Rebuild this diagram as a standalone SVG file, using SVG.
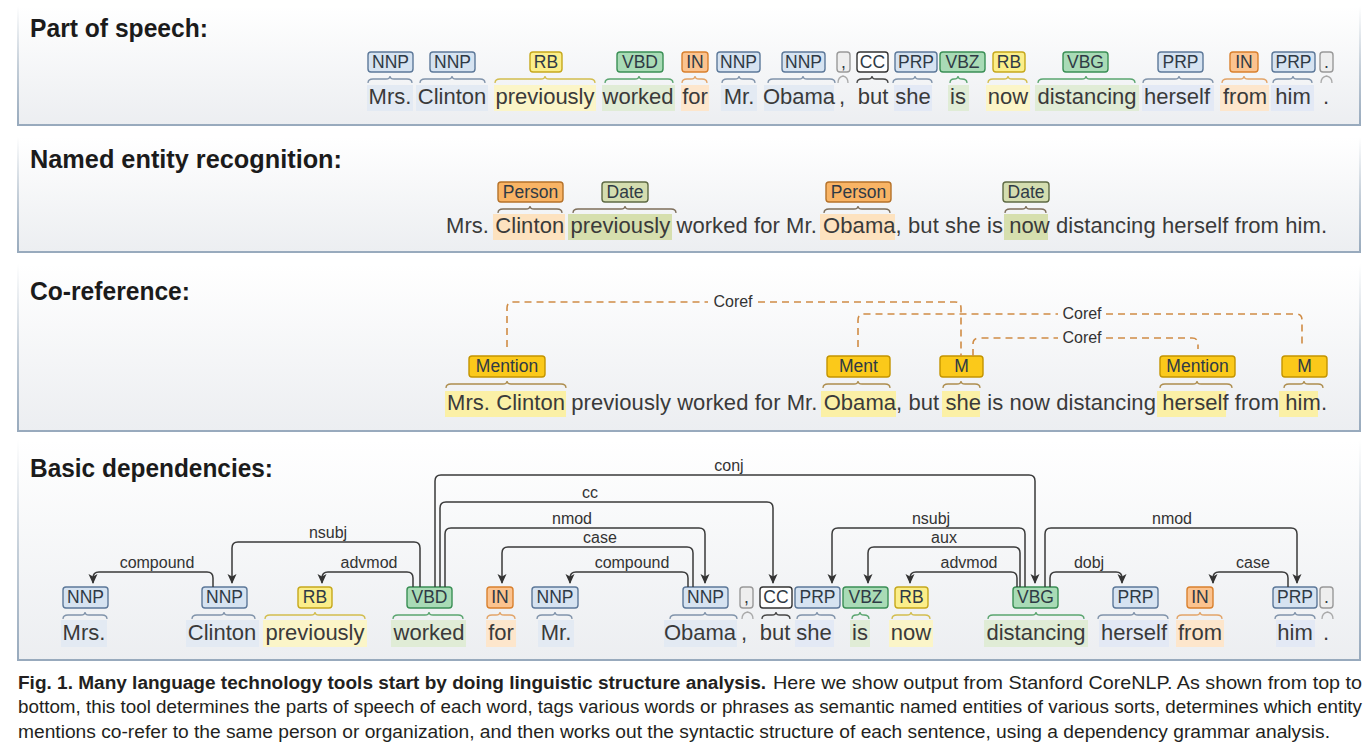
<svg xmlns="http://www.w3.org/2000/svg" width="1368" height="752" viewBox="0 0 1368 752">
<defs>
<linearGradient id="pg" x1="0" y1="0" x2="0" y2="1"><stop offset="0" stop-color="#ffffff"/><stop offset="1" stop-color="#eceef1"/></linearGradient>
<linearGradient id="bd" x1="0" y1="0" x2="0" y2="1"><stop offset="0" stop-color="#ffffff"/><stop offset="0.5" stop-color="#c5cfd9"/><stop offset="1" stop-color="#98aabd"/></linearGradient>
<marker id="ah" viewBox="0 0 10 10" refX="9" refY="5" markerWidth="10" markerHeight="10" markerUnits="userSpaceOnUse" orient="auto"><path d="M0,0.5 L10,5 L0,9.5 L2.5,5 z" fill="#333"/></marker>
<style>
text{font-family:'Liberation Sans',Arial,sans-serif}
.ttl{font-weight:bold;font-size:25px;fill:#1b1b1b}
.w{font-size:22px;fill:#3a3a3a;text-anchor:middle}
.s{font-size:22px;fill:#3a3a3a}
.tt{font-size:17.5px;fill:#2f3a45;text-anchor:middle}
.lbl{font-size:16px;fill:#333;text-anchor:middle}
.cap{font-size:17.5px;fill:#231f20}
.br{fill:none;stroke-width:1.3}
.dep{fill:none;stroke:#3a3a3a;stroke-width:1.5;marker-end:url(#ah)}
.cor{fill:none;stroke:#d08c45;stroke-width:1.6;stroke-dasharray:7 5}
.tNNP,.tPRP{fill:#d6e3f1;stroke:#5c7899;stroke-width:1.4}
.tRB{fill:#fbee8a;stroke:#c6a81c;stroke-width:1.4}
.tVB{fill:#a9dbb6;stroke:#3a8f55;stroke-width:1.4}
.tIN{fill:#fbc38f;stroke:#d9802e;stroke-width:1.4}
.tCC{fill:#ffffff;stroke:#333;stroke-width:1.4}
.tPUN{fill:#eeeeee;stroke:#999;stroke-width:1.4}
.tPER{fill:#f9b465;stroke:#b5722a;stroke-width:1.4}
.tDATE{fill:#d4ddb0;stroke:#5e6a44;stroke-width:1.4}
.tMEN{fill:#fbc91a;stroke:#c39400;stroke-width:1.4}
.bNNP{stroke:#8093aa}.bRB{stroke:#d2bd4e}.bVB{stroke:#5aa56f}.bIN{stroke:#e2a468}.bCC{stroke:#444}.bPUN{stroke:#aaa}.bNER{stroke:#7d6e5a}.bMEN{stroke:#ad8d4e}
.hNNP{fill:#e3eaf3}.hRB{fill:#fbf5c8}.hVB{fill:#e0ecd6}.hIN{fill:#fde6cc}.hPRP{fill:#e3e9f5}.hPER{fill:#fde2bf}.hDATE{fill:#d6dfae}.hMEN{fill:#fbf0a6}
</style>
</defs>
<rect width="1368" height="752" fill="#ffffff"/>

<!-- panels -->
<g id="panels">
<rect x="18" y="6" width="1342" height="119" fill="url(#pg)"/>
<path d="M18,6 V125 H1360 V6" fill="none" stroke="url(#bd)" stroke-width="2"/>
<rect x="18" y="137" width="1342" height="115" fill="url(#pg)"/>
<path d="M18,137 V252 H1360 V137" fill="none" stroke="url(#bd)" stroke-width="2"/>
<rect x="18" y="264" width="1342" height="167" fill="url(#pg)"/>
<path d="M18,264 V431 H1360 V264" fill="none" stroke="url(#bd)" stroke-width="2"/>
<rect x="18" y="440" width="1342" height="220" fill="url(#pg)"/>
<path d="M18,440 V660 H1360 V440" fill="none" stroke="url(#bd)" stroke-width="2"/>
</g>

<g id="titles">
<text class="ttl" x="30" y="37" textLength="178" lengthAdjust="spacingAndGlyphs">Part of speech:</text>
<text class="ttl" x="30" y="168" textLength="312" lengthAdjust="spacingAndGlyphs">Named entity recognition:</text>
<text class="ttl" x="30" y="300" textLength="160" lengthAdjust="spacingAndGlyphs">Co-reference:</text>
<text class="ttl" x="30" y="477" textLength="243" lengthAdjust="spacingAndGlyphs">Basic dependencies:</text>
</g>

<!-- ===== Part of speech ===== -->
<g id="pos">
<g id="pos-1"><rect class="hNNP" x="367" y="85" width="46" height="26"/><path class="br bNNP" d="M368,83 Q368,79 373,79 H386 Q390,79 390,76 Q390,79 394,79 H407 Q412,79 412,83"/><rect class="tNNP" x="368" y="52" width="45" height="20" rx="3"/><text class="tt" x="390.5" y="68">NNP</text><text class="w" x="390" y="104">Mrs.</text></g>
<g id="pos-2"><rect class="hNNP" x="416" y="85" width="72" height="26"/><path class="br bNNP" d="M420,83 Q420,79 425,79 H448 Q452,79 452,76 Q452,79 456,79 H480 Q485,79 485,83"/><rect class="tNNP" x="430" y="52" width="45" height="20" rx="3"/><text class="tt" x="452.5" y="68">NNP</text><text class="w" x="452" y="104">Clinton</text></g>
<g id="pos-3"><rect class="hRB" x="494" y="85" width="102" height="26"/><path class="br bRB" d="M495,83 Q495,79 500,79 H541 Q545,79 545,76 Q545,79 549,79 H590 Q595,79 595,83"/><rect class="tRB" x="530" y="52" width="32" height="20" rx="3"/><text class="tt" x="546" y="68">RB</text><text class="w" x="545" y="104">previously</text></g>
<g id="pos-4"><rect class="hVB" x="602" y="85" width="73" height="26"/><path class="br bVB" d="M605,83 Q605,79 610,79 H635 Q639,79 639,76 Q639,79 643,79 H668 Q673,79 673,83"/><rect class="tVB" x="617" y="52" width="46" height="20" rx="3"/><text class="tt" x="640" y="68">VBD</text><text class="w" x="638" y="104">worked</text></g>
<g id="pos-5"><rect class="hIN" x="681" y="85" width="28" height="26"/><path class="br bIN" d="M682,83 Q682,79 687,79 H691 Q695,79 695,76 Q695,79 699,79 H702 Q707,79 707,83"/><rect class="tIN" x="682" y="52" width="26" height="20" rx="3"/><text class="tt" x="695" y="68">IN</text><text class="w" x="695" y="104">for</text></g>
<g id="pos-6"><rect class="hNNP" x="721" y="85" width="36" height="26"/><path class="br bNNP" d="M722,83 Q722,79 727,79 H735 Q739,79 739,76 Q739,79 743,79 H750 Q755,79 755,83"/><rect class="tNNP" x="717" y="52" width="43" height="20" rx="3"/><text class="tt" x="738.5" y="68">NNP</text><text class="w" x="739" y="104">Mr.</text></g>
<g id="pos-7"><rect class="hNNP" x="764" y="85" width="70" height="26"/><path class="br bNNP" d="M768,83 Q768,79 773,79 H799 Q803,79 803,76 Q803,79 807,79 H830 Q835,79 835,83"/><rect class="tNNP" x="782" y="52" width="43" height="20" rx="3"/><text class="tt" x="803.5" y="68">NNP</text><text class="w" x="799" y="104">Obama</text></g>
<g id="pos-8"><path class="br bPUN" d="M838,83 Q838,77 843,76 Q848,77 848,83"/><rect class="tPUN" x="837" y="52" width="13" height="20" rx="3"/><text class="tt" x="843.5" y="68">,</text><text class="w" x="842" y="104">,</text></g>
<g id="pos-9"><path class="br bCC" d="M857,83 Q857,79 862,79 H868 Q872,79 872,76 Q872,79 876,79 H883 Q888,79 888,83"/><rect class="tCC" x="857" y="52" width="31" height="20" rx="3"/><text class="tt" x="872.5" y="68">CC</text><text class="w" x="873" y="104">but</text></g>
<g id="pos-10"><rect class="hPRP" x="894" y="85" width="38" height="26"/><path class="br bNNP" d="M893,83 Q893,79 898,79 H911 Q915,79 915,76 Q915,79 919,79 H927 Q932,79 932,83"/><rect class="tPRP" x="895" y="52" width="42" height="20" rx="3"/><text class="tt" x="916" y="68">PRP</text><text class="w" x="913" y="104">she</text></g>
<g id="pos-11"><rect class="hVB" x="948" y="85" width="21" height="26"/><path class="br bVB" d="M950,83 Q950,79 954,79 Q958,79 958,76 Q958,79 962,79 Q967,79 967,83"/><rect class="tVB" x="940" y="52" width="45" height="20" rx="3"/><text class="tt" x="962.5" y="68">VBZ</text><text class="w" x="958" y="104">is</text></g>
<g id="pos-12"><rect class="hRB" x="986" y="85" width="44" height="26"/><path class="br bRB" d="M988,83 Q988,79 993,79 H1004 Q1008,79 1008,76 Q1008,79 1012,79 H1022 Q1027,79 1027,83"/><rect class="tRB" x="993" y="52" width="32" height="20" rx="3"/><text class="tt" x="1009" y="68">RB</text><text class="w" x="1008" y="104">now</text></g>
<g id="pos-13"><rect class="hVB" x="1035" y="85" width="104" height="26"/><path class="br bVB" d="M1038,83 Q1038,79 1043,79 H1082 Q1086,79 1086,76 Q1086,79 1090,79 H1130 Q1135,79 1135,83"/><rect class="tVB" x="1063" y="52" width="45" height="20" rx="3"/><text class="tt" x="1085.5" y="68">VBG</text><text class="w" x="1087" y="104">distancing</text></g>
<g id="pos-14"><rect class="hPRP" x="1142" y="85" width="72" height="26"/><path class="br bNNP" d="M1143,83 Q1143,79 1148,79 H1175 Q1179,79 1179,76 Q1179,79 1183,79 H1208 Q1213,79 1213,83"/><rect class="tPRP" x="1158" y="52" width="45" height="20" rx="3"/><text class="tt" x="1180.5" y="68">PRP</text><text class="w" x="1177" y="104">herself</text></g>
<g id="pos-15"><rect class="hIN" x="1220" y="85" width="49" height="26"/><path class="br bIN" d="M1222,83 Q1222,79 1227,79 H1240 Q1244,79 1244,76 Q1244,79 1248,79 H1262 Q1267,79 1267,83"/><rect class="tIN" x="1230" y="52" width="28" height="20" rx="3"/><text class="tt" x="1244" y="68">IN</text><text class="w" x="1245" y="104">from</text></g>
<g id="pos-16"><rect class="hPRP" x="1271" y="85" width="43" height="26"/><path class="br bNNP" d="M1273,83 Q1273,79 1278,79 H1289 Q1293,79 1293,76 Q1293,79 1297,79 H1307 Q1312,79 1312,83"/><rect class="tPRP" x="1272" y="52" width="43" height="20" rx="3"/><text class="tt" x="1293.5" y="68">PRP</text><text class="w" x="1293" y="104">him</text></g>
<g id="pos-17"><path class="br bPUN" d="M1321,83 Q1321,77 1326.5,76 Q1332,77 1332,83"/><rect class="tPUN" x="1320" y="52" width="13" height="20" rx="3"/><text class="tt" x="1326.5" y="68">.</text><text class="w" x="1326" y="104">.</text></g>
</g>

<!-- ===== NER ===== -->
<g id="ner">
<rect class="hPER" x="493" y="214" width="72" height="26"/>
<rect class="hDATE" x="568" y="214" width="104" height="26"/>
<rect class="hPER" x="820" y="214" width="75" height="26"/>
<rect class="hDATE" x="1004" y="214" width="44" height="26"/>
<g id="ner-person1"><path class="br bNER" d="M498,213 Q498,209 503,209 H526 Q530,209 530,206 Q530,209 534,209 H557 Q562,209 562,213"/><rect class="tPER" x="498" y="182" width="65" height="20" rx="3"/><text class="tt" x="530.5" y="198">Person</text></g>
<g id="ner-date1"><path class="br bNER" d="M573,213 Q573,209 578,209 H621 Q625,209 625,206 Q625,209 629,209 H671 Q676,209 676,213"/><rect class="tDATE" x="602" y="182" width="46" height="20" rx="3"/><text class="tt" x="625" y="198">Date</text></g>
<g id="ner-person2"><path class="br bNER" d="M824,213 Q824,209 829,209 H854 Q858,209 858,206 Q858,209 862,209 H885 Q890,209 890,213"/><rect class="tPER" x="826" y="182" width="65" height="20" rx="3"/><text class="tt" x="858.5" y="198">Person</text></g>
<g id="ner-date2"><path class="br bNER" d="M1005,213 Q1005,209 1010,209 H1022 Q1026,209 1026,206 Q1026,209 1030,209 H1041 Q1046,209 1046,213"/><rect class="tDATE" x="1003" y="182" width="46" height="20" rx="3"/><text class="tt" x="1026" y="198">Date</text></g>
<text class="s" x="446" y="233" textLength="881">Mrs. Clinton previously worked for Mr. Obama, but she is now distancing herself from him.</text>
</g>

<!-- ===== Coreference ===== -->
<g id="coref">
<rect class="hMEN" x="445" y="391" width="121" height="26"/>
<rect class="hMEN" x="821" y="391" width="75" height="26"/>
<rect class="hMEN" x="942" y="391" width="38" height="26"/>
<rect class="hMEN" x="1157" y="391" width="69" height="26"/>
<rect class="hMEN" x="1279" y="391" width="39" height="26"/>
<g id="men-1"><path class="br bMEN" d="M446,388 Q446,384 451,384 H503 Q507,384 507,381 Q507,384 511,384 H561 Q566,384 566,388"/><rect class="tMEN" x="469" y="356" width="76" height="21" rx="3"/><text class="tt" x="507" y="372">Mention</text></g>
<g id="men-2"><path class="br bMEN" d="M823,388 Q823,384 828,384 H854 Q858,384 858,381 Q858,384 862,384 H885 Q890,384 890,388"/><rect class="tMEN" x="827" y="356" width="63" height="21" rx="3"/><text class="tt" x="858.5" y="372">Ment</text></g>
<g id="men-3"><path class="br bMEN" d="M943,388 Q943,384 948,384 H957 Q961,384 961,381 Q961,384 965,384 H975 Q980,384 980,388"/><rect class="tMEN" x="940" y="356" width="43" height="21" rx="3"/><text class="tt" x="961.5" y="372">M</text></g>
<g id="men-4"><path class="br bMEN" d="M1160,388 Q1160,384 1165,384 H1193 Q1197,384 1197,381 Q1197,384 1201,384 H1227 Q1232,384 1232,388"/><rect class="tMEN" x="1160" y="356" width="75" height="21" rx="3"/><text class="tt" x="1197.5" y="372">Mention</text></g>
<g id="men-5"><path class="br bMEN" d="M1284,388 Q1284,384 1289,384 H1300 Q1304,384 1304,381 Q1304,384 1308,384 H1318 Q1323,384 1323,388"/><rect class="tMEN" x="1282" y="356" width="45" height="21" rx="3"/><text class="tt" x="1304.5" y="372">M</text></g>
<text class="s" x="447" y="410" textLength="880">Mrs. Clinton previously worked for Mr. Obama, but she is now distancing herself from him.</text>
</g>

<!-- ===== Dependencies tokens ===== -->
<g id="dep-tokens">
<g id="d-1"><rect class="hNNP" x="61" y="620" width="46" height="27"/><path class="br bNNP" d="M63,619 Q63,615 68,615 H81 Q85,615 85,612 Q85,615 89,615 H102 Q107,615 107,619"/><rect class="tNNP" x="63" y="587" width="45" height="21" rx="3"/><text class="tt" x="85.5" y="603">NNP</text><text class="w" x="84" y="640">Mrs.</text></g>
<g id="d-2"><rect class="hNNP" x="186" y="620" width="73" height="27"/><path class="br bNNP" d="M192,619 Q192,615 197,615 H220 Q224,615 224,612 Q224,615 228,615 H250 Q255,615 255,619"/><rect class="tNNP" x="202" y="587" width="45" height="21" rx="3"/><text class="tt" x="224.5" y="603">NNP</text><text class="w" x="222" y="640">Clinton</text></g>
<g id="d-3"><rect class="hRB" x="263" y="620" width="104" height="27"/><path class="br bRB" d="M265,619 Q265,615 270,615 H311 Q315,615 315,612 Q315,615 319,615 H360 Q365,615 365,619"/><rect class="tRB" x="298" y="587" width="34" height="21" rx="3"/><text class="tt" x="315" y="603">RB</text><text class="w" x="315" y="640">previously</text></g>
<g id="d-4"><rect class="hVB" x="391" y="620" width="75" height="27"/><path class="br bVB" d="M393,619 Q393,615 398,615 H425 Q429,615 429,612 Q429,615 433,615 H458 Q463,615 463,619"/><rect class="tVB" x="407" y="587" width="45" height="21" rx="3"/><text class="tt" x="429.5" y="603">VBD</text><text class="w" x="429" y="640">worked</text></g>
<g id="d-5"><rect class="hIN" x="486" y="620" width="30" height="27"/><path class="br bIN" d="M487,619 Q487,615 492,615 H496 Q500,615 500,612 Q500,615 504,615 H510 Q515,615 515,619"/><rect class="tIN" x="487" y="587" width="26" height="21" rx="3"/><text class="tt" x="500" y="603">IN</text><text class="w" x="501" y="640">for</text></g>
<g id="d-6"><rect class="hNNP" x="538" y="620" width="36" height="27"/><path class="br bNNP" d="M537,619 Q537,615 542,615 H551 Q555,615 555,612 Q555,615 559,615 H567 Q572,615 572,619"/><rect class="tNNP" x="532" y="587" width="46" height="21" rx="3"/><text class="tt" x="555" y="603">NNP</text><text class="w" x="556" y="640">Mr.</text></g>
<g id="d-7"><rect class="hNNP" x="664" y="620" width="73" height="27"/><path class="br bNNP" d="M670,619 Q670,615 675,615 H701 Q705,615 705,612 Q705,615 709,615 H732 Q737,615 737,619"/><rect class="tNNP" x="683" y="587" width="45" height="21" rx="3"/><text class="tt" x="705.5" y="603">NNP</text><text class="w" x="700" y="640">Obama</text></g>
<g id="d-8"><path class="br bPUN" d="M742,619 Q742,613 747.5,612 Q753,613 753,619"/><rect class="tPUN" x="740" y="587" width="13" height="21" rx="3"/><text class="tt" x="746.5" y="603">,</text><text class="w" x="744" y="640">,</text></g>
<g id="d-9"><path class="br bCC" d="M762,619 Q762,615 767,615 H772 Q776,615 776,612 Q776,615 780,615 H785 Q790,615 790,619"/><rect class="tCC" x="760" y="587" width="32" height="21" rx="3"/><text class="tt" x="776" y="603">CC</text><text class="w" x="775" y="640">but</text></g>
<g id="d-10"><rect class="hPRP" x="795" y="620" width="39" height="27"/><path class="br bNNP" d="M797,619 Q797,615 802,615 H813 Q817,615 817,612 Q817,615 821,615 H830 Q835,615 835,619"/><rect class="tPRP" x="795" y="587" width="45" height="21" rx="3"/><text class="tt" x="817.5" y="603">PRP</text><text class="w" x="814" y="640">she</text></g>
<g id="d-11"><rect class="hVB" x="850" y="620" width="20" height="27"/><path class="br bVB" d="M852,619 Q852,615 856,615 Q860,615 860,612 Q860,615 864,615 Q869,615 869,619"/><rect class="tVB" x="843" y="587" width="45" height="21" rx="3"/><text class="tt" x="865.5" y="603">VBZ</text><text class="w" x="860" y="640">is</text></g>
<g id="d-12"><rect class="hRB" x="889" y="620" width="44" height="27"/><path class="br bRB" d="M892,619 Q892,615 897,615 H907 Q911,615 911,612 Q911,615 915,615 H925 Q930,615 930,619"/><rect class="tRB" x="895" y="587" width="33" height="21" rx="3"/><text class="tt" x="911.5" y="603">RB</text><text class="w" x="911" y="640">now</text></g>
<g id="d-13"><rect class="hVB" x="984" y="620" width="104" height="27"/><path class="br bVB" d="M988,619 Q988,615 993,615 H1032 Q1036,615 1036,612 Q1036,615 1040,615 H1079 Q1084,615 1084,619"/><rect class="tVB" x="1013" y="587" width="45" height="21" rx="3"/><text class="tt" x="1035.5" y="603">VBG</text><text class="w" x="1036" y="640">distancing</text></g>
<g id="d-14"><rect class="hPRP" x="1099" y="620" width="70" height="27"/><path class="br bNNP" d="M1098,619 Q1098,615 1103,615 H1130 Q1134,615 1134,612 Q1134,615 1138,615 H1163 Q1168,615 1168,619"/><rect class="tPRP" x="1113" y="587" width="45" height="21" rx="3"/><text class="tt" x="1135.5" y="603">PRP</text><text class="w" x="1134" y="640">herself</text></g>
<g id="d-15"><rect class="hIN" x="1176" y="620" width="48" height="27"/><path class="br bIN" d="M1177,619 Q1177,615 1182,615 H1196 Q1200,615 1200,612 Q1200,615 1204,615 H1217 Q1222,615 1222,619"/><rect class="tIN" x="1187" y="587" width="26" height="21" rx="3"/><text class="tt" x="1200" y="603">IN</text><text class="w" x="1200" y="640">from</text></g>
<g id="d-16"><rect class="hPRP" x="1276" y="620" width="39" height="27"/><path class="br bNNP" d="M1275,619 Q1275,615 1280,615 H1291 Q1295,615 1295,612 Q1295,615 1299,615 H1310 Q1315,615 1315,619"/><rect class="tPRP" x="1273" y="587" width="44" height="21" rx="3"/><text class="tt" x="1295" y="603">PRP</text><text class="w" x="1295" y="640">him</text></g>
<g id="d-17"><path class="br bPUN" d="M1322,619 Q1322,613 1327.5,612 Q1333,613 1333,619"/><rect class="tPUN" x="1320" y="587" width="13" height="21" rx="3"/><text class="tt" x="1326.5" y="603">.</text><text class="w" x="1326" y="640">.</text></g>
</g>

<!-- ===== Connectors ===== -->
<g id="connectors">
<g id="coref-links">
<path class="cor" d="M507,347 V308 Q507,302 513,302 H708"/><path class="cor" d="M758,302 H955 Q961,302 961,308 V356"/>
<path class="cor" d="M858,347 V320 Q858,314 864,314 H1058"/><path class="cor" d="M1106,314 H1296 Q1302,314 1302,320 V348"/>
<path class="cor" d="M973,356 V344 Q973,338 979,338 H1058"/><path class="cor" d="M1106,338 H1192 Q1198,338 1198,344 V349"/>
<text class="lbl" x="733" y="307">Coref</text>
<text class="lbl" x="1082" y="319">Coref</text>
<text class="lbl" x="1082" y="343">Coref</text>
</g>
<g id="dep-arcs">
<path class="dep" d="M213,587 V578 Q213,572 207,572 H99 Q93,572 93,578 V583"/>
<path class="dep" d="M420,587 V548 Q420,542 414,542 H238 Q232,542 232,548 V583"/>
<path class="dep" d="M413,587 V578 Q413,572 407,572 H328 Q322,572 322,578 V583"/>
<path class="dep" d="M435,587 V481 Q435,475 441,475 H1029 Q1035,475 1035,481 V583"/>
<path class="dep" d="M440,587 V508 Q440,502 446,502 H767 Q773,502 773,508 V583"/>
<path class="dep" d="M445,587 V534 Q445,528 451,528 H699 Q705,528 705,534 V583"/>
<path class="dep" d="M693,587 V553 Q693,547 687,547 H508 Q502,547 502,553 V583"/>
<path class="dep" d="M688,587 V578 Q688,572 682,572 H576 Q570,572 570,578 V583"/>
<path class="dep" d="M1025,587 V534 Q1025,528 1019,528 H838 Q832,528 832,534 V583"/>
<path class="dep" d="M1020,587 V553 Q1020,547 1014,547 H874 Q868,547 868,553 V583"/>
<path class="dep" d="M1017,587 V578 Q1017,572 1011,572 H916 Q910,572 910,578 V583"/>
<path class="dep" d="M1045,587 V534 Q1045,528 1051,528 H1291 Q1297,528 1297,534 V583"/>
<path class="dep" d="M1050,587 V578 Q1050,572 1056,572 H1116 Q1122,572 1122,578 V583"/>
<path class="dep" d="M1288,587 V578 Q1288,572 1282,572 H1219 Q1213,572 1213,578 V583"/>
<text class="lbl" x="157" y="568">compound</text>
<text class="lbl" x="328" y="538">nsubj</text>
<text class="lbl" x="369" y="568">advmod</text>
<text class="lbl" x="729" y="471">conj</text>
<text class="lbl" x="590" y="498">cc</text>
<text class="lbl" x="572" y="524">nmod</text>
<text class="lbl" x="600" y="543">case</text>
<text class="lbl" x="632" y="568">compound</text>
<text class="lbl" x="931" y="524">nsubj</text>
<text class="lbl" x="944" y="543">aux</text>
<text class="lbl" x="969" y="568">advmod</text>
<text class="lbl" x="1172" y="524">nmod</text>
<text class="lbl" x="1089" y="568">dobj</text>
<text class="lbl" x="1253" y="568">case</text>
</g>
</g>

<!-- ===== Caption ===== -->
<g id="caption">
<text class="cap" x="18" y="689" font-weight="bold" textLength="748" lengthAdjust="spacingAndGlyphs">Fig. 1. Many language technology tools start by doing linguistic structure analysis.</text>
<text class="cap" x="773" y="689" textLength="589" lengthAdjust="spacingAndGlyphs">Here we show output from Stanford CoreNLP. As shown from top to</text>
<text class="cap" x="18" y="713" textLength="1344" lengthAdjust="spacingAndGlyphs">bottom, this tool determines the parts of speech of each word, tags various words or phrases as semantic named entities of various sorts, determines which entity</text>
<text class="cap" x="18" y="738" textLength="1312" lengthAdjust="spacingAndGlyphs">mentions co-refer to the same person or organization, and then works out the syntactic structure of each sentence, using a dependency grammar analysis.</text>
</g>
</svg>
